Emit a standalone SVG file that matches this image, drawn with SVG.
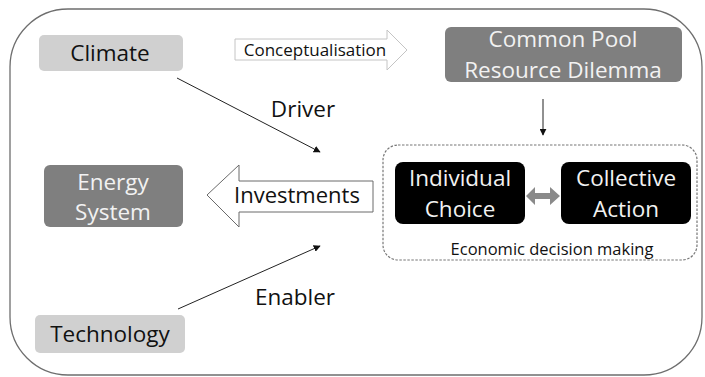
<svg xmlns="http://www.w3.org/2000/svg" width="705" height="377" viewBox="0 0 705 377">
<style>
text{font-family:"Open Sans","Noto Sans",sans-serif;text-anchor:middle}
.light{fill:#d0d0d0}
.mid{fill:#7f7f7f}
.dark{fill:#000}
.lbl{font-size:22.5px;fill:#111}
.wt{font-size:22.5px;fill:#f2f2f2}
.conn{stroke:#222;stroke-width:1;fill:none}
</style>
<defs>
<marker id="ah" viewBox="0 0 10 10" refX="9" refY="5" markerWidth="7" markerHeight="7" orient="auto" markerUnits="userSpaceOnUse">
<path d="M0,0 L10,5 L0,10 z" fill="#111"/>
</marker>
</defs>
<rect x="10" y="9" width="692" height="366" rx="58" ry="58" fill="#fff" stroke="#6e6e6e" stroke-width="1.3"/>
<g id="group-economic">
<rect x="383" y="145" width="314" height="115" rx="15" fill="none" stroke="#777" stroke-width="1.2" stroke-dasharray="2.5,1.5"/>
<text x="552" y="255" style="font-size:16.5px;fill:#111">Economic decision making</text>
</g>
<g id="climate">
<rect class="light" x="39" y="35" width="144" height="36" rx="5"/>
<text class="lbl" x="110" y="61">Climate</text>
</g>
<g id="technology">
<rect class="light" x="35" y="315" width="150" height="38" rx="5"/>
<text class="lbl" x="110" y="342">Technology</text>
</g>
<g id="energy-system">
<rect class="mid" x="44" y="165" width="139" height="62" rx="6"/>
<text class="wt" x="113" y="190">Energy</text>
<text class="wt" x="113" y="220">System</text>
</g>
<g id="common-pool">
<rect class="mid" x="445" y="27" width="237" height="55" rx="6"/>
<text class="wt" x="563" y="47">Common Pool</text>
<text class="wt" x="563" y="78">Resource Dilemma</text>
</g>
<g id="individual-choice">
<rect class="dark" x="395" y="162" width="130" height="62" rx="8"/>
<text class="wt" x="460" y="186">Individual</text>
<text class="wt" x="460" y="217">Choice</text>
</g>
<g id="collective-action">
<rect class="dark" x="561" y="162" width="130" height="62" rx="8"/>
<text class="wt" x="626" y="186">Collective</text>
<text class="wt" x="626" y="217">Action</text>
</g>
<g id="connectors">
<path d="M235,39 L387,39 L387,30 L407,50 L387,70 L387,60 L235,60 Z" fill="#fff" stroke="#c4c4c4" stroke-width="1"/>
<text x="315" y="56" style="font-size:17px;fill:#111">Conceptualisation</text>
<path d="M373,181 L239,181 L239,165 L207,195 L239,227 L239,212 L373,212 Z" fill="#fff" stroke="#6a6a6a" stroke-width="1"/>
<text x="297" y="203" style="font-size:22px;fill:#111">Investments</text>
<path d="M526,196 L535,187 L535,193 L550,193 L550,187 L560,196 L550,205 L550,199 L535,199 L535,205 Z" fill="#8a8a8a"/>
<line class="conn" x1="543" y1="99" x2="543" y2="135" marker-end="url(#ah)"/>
<line class="conn" x1="177" y1="78" x2="320" y2="152" marker-end="url(#ah)"/>
<line class="conn" x1="178" y1="309" x2="320" y2="246" marker-end="url(#ah)"/>
<text class="lbl" x="303" y="117">Driver</text>
<text class="lbl" x="295" y="305">Enabler</text>
</g>
</svg>
